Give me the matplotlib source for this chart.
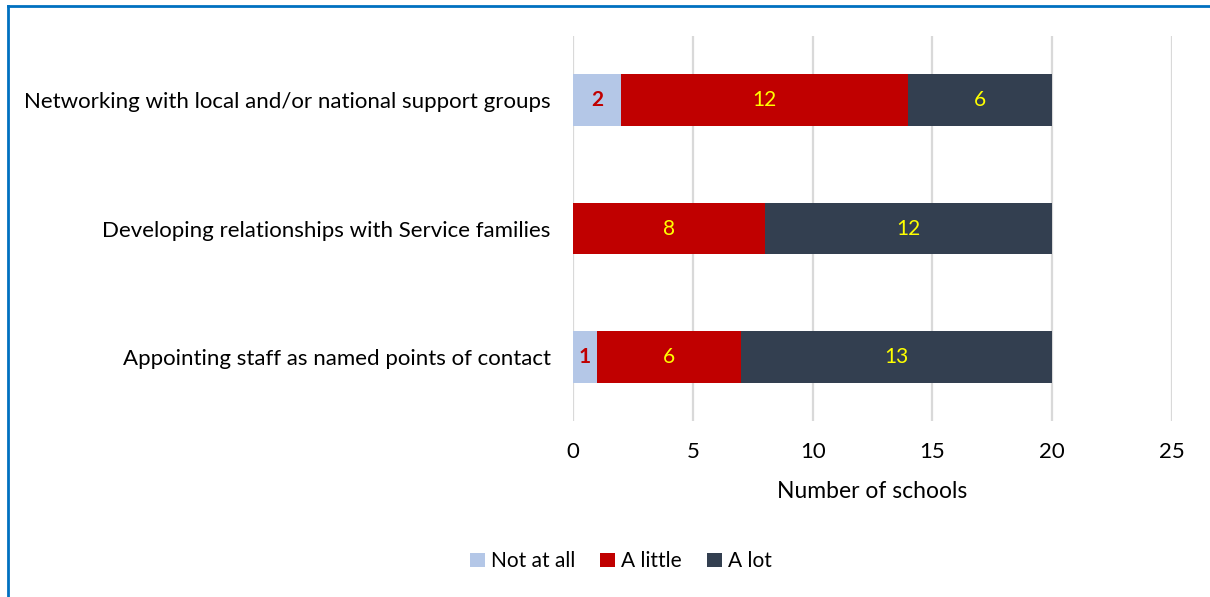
import matplotlib.pyplot as plt

# categories, bottom to top as drawn
activities = ['Appointing staff as named points of contact',
              'Developing relationships with Service families',
              'Networking with local and/or national support groups']
not_at_all = [1, 0, 2]
a_little = [6, 8, 12]
a_lot = [13, 12, 6]

series_names = ['Not at all', 'A little', 'A lot']
colours = ['#B4C7E7', '#C00000', '#333F50']

plt.rcParams['font.family'] = ['Lato', 'DejaVu Sans']

fig = plt.figure(figsize=(12.1, 5.97), dpi=100)
ax = fig.add_axes([0.4736, 0.2948, 0.495, 0.6449])

y = range(len(activities))
left = [0] * len(activities)
for name, vals, col in zip(series_names, [not_at_all, a_little, a_lot], colours):
    bars = ax.barh(y, vals, left=left, height=0.405, color=col, label=name, zorder=3)
    for b, v in zip(bars, vals):
        if v == 0:
            continue
        cx = b.get_x() + b.get_width() / 2
        cy = b.get_y() + b.get_height() / 2
        if name == 'Not at all':
            ax.text(cx, cy, str(v), ha='center', va='center', color='#C00000',
                    fontsize=15, fontweight='bold', zorder=4)
        else:
            ax.text(cx, cy, str(v), ha='center', va='center', color='#FFFF00',
                    fontsize=15, zorder=4)
    left = [l + v for l, v in zip(left, vals)]

ax.set_xlim(0, 25)
ax.set_ylim(-0.5, 2.5)
ax.set_xticks(range(0, 26, 5))
ax.set_yticks(list(y))
ax.set_yticklabels(activities)
ax.tick_params(axis='both', length=0, labelsize=16, colors='black')
ax.tick_params(axis='x', pad=15)
ax.tick_params(axis='y', pad=16)
ax.grid(axis='x', color='#D9D9D9', linewidth=1.6, zorder=0)
for s in ax.spines.values():
    s.set_visible(False)
ax.set_xlabel('Number of schools', fontsize=16.5, labelpad=14)

ax.legend(loc='upper center', bbox_to_anchor=(0.08, -0.29), ncol=3, frameon=False,
          fontsize=15, handlelength=0.7, handleheight=0.7, handletextpad=0.3,
          columnspacing=1.2)

# blue frame on left and top
fig.add_artist(plt.Line2D([0.0062, 0.0062], [0, 0.99], color='#0070C0', linewidth=2,
                          transform=fig.transFigure))
fig.add_artist(plt.Line2D([0.0062, 1], [0.99, 0.99], color='#0070C0', linewidth=2,
                          transform=fig.transFigure))

fig.savefig('out.png', dpi=100)
